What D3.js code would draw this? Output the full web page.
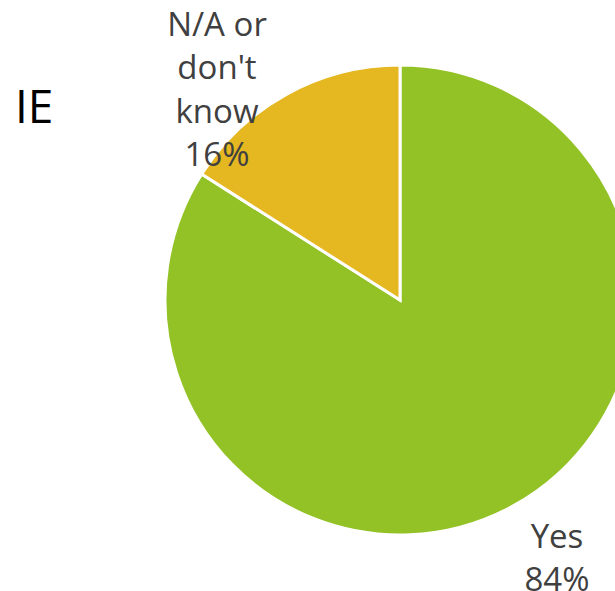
<!DOCTYPE html>
<html>
<head>
<meta charset="utf-8">
<script src="https://cdn.jsdelivr.net/npm/d3@7"></script>
<style>
  html, body { margin: 0; padding: 0; background: #fff; overflow: hidden; }
  svg { display: block; }
</style>
</head>
<body>
<svg id="chart" width="615" height="591"></svg>
<script>
// Survey answers for IE
const categories = ["Yes", "N/A or don't know"];
const values = [84, 16];
const colors = ["#93c226", "#e5b720"];
const labelLines = [["Yes", "84%"], ["N/A or", "don't", "know", "16%"]];
const title = "IE";

const svg = d3.select("#chart");
const cx = 400, cy = 300, radius = 235;

const pie = d3.pie().sort(null).value(d => d.value);
const arcs = pie(categories.map((c, i) => ({ name: c, value: values[i], color: colors[i], lines: labelLines[i] })));
const arc = d3.arc().innerRadius(0).outerRadius(radius);

const g = svg.append("g").attr("transform", `translate(${cx},${cy})`);

g.selectAll("path")
  .data(arcs)
  .join("path")
  .attr("d", arc)
  .attr("fill", d => d.data.color)
  .attr("stroke", "#fff")
  .attr("stroke-width", 3)
  .attr("stroke-linejoin", "miter");

// Labels placed just outside the rim at each slice's edge
const labelPos = [[157, 248], [-183, -264]];
const lineH = 43.3;
g.selectAll("text.lbl")
  .data(arcs)
  .join("text")
  .attr("class", "lbl")
  .attr("text-anchor", "middle")
  .attr("font-family", "'Open Sans', sans-serif")
  .attr("font-size", 33)
  .attr("fill", "#404040")
  .each(function(d, i) {
    const t = d3.select(this);
    d.data.lines.forEach((ln, j) => {
      t.append("tspan")
        .attr("x", labelPos[i][0])
        .attr("y", labelPos[i][1] + j * lineH)
        .text(ln);
    });
  });

svg.append("text")
  .attr("x", 15)
  .attr("y", 123)
  .attr("font-family", "'Open Sans', sans-serif")
  .attr("font-size", 46)
  .attr("fill", "#000")
  .text(title);
</script>
</body>
</html>
